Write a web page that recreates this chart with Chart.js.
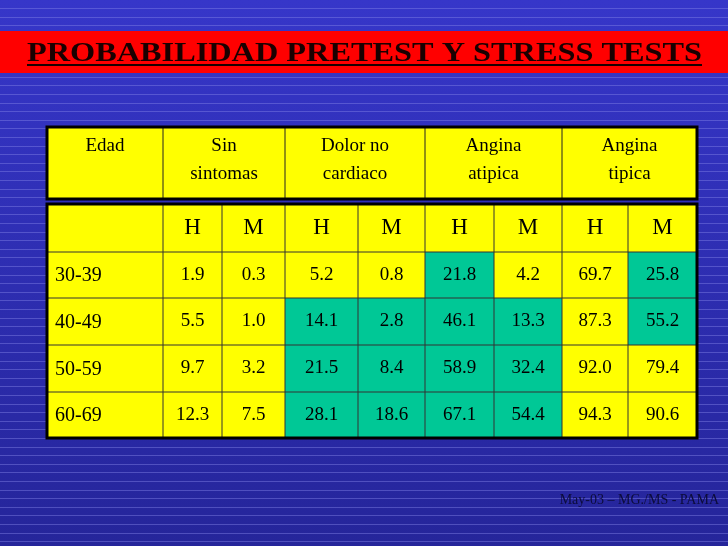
<!DOCTYPE html>
<html><head><meta charset="utf-8">
<script src="https://cdn.jsdelivr.net/npm/chart.js@4"></script>
<style>html,body{margin:0;padding:0;background:#3030b8;}#w{width:728px;height:546px;}</style>
</head><body><div id="w"><canvas id="c"></canvas></div>
<script>
const title = "PROBABILIDAD PRETEST Y STRESS TESTS";
const footer = "May-03 – MG./MS - PAMA";
const groupHeaders = [["Edad"],["Sin","sintomas"],["Dolor no","cardiaco"],["Angina","atipica"],["Angina","tipica"]];
const subHeaders = ["H","M","H","M","H","M","H","M"];
const ageGroups = ["30-39","40-49","50-59","60-69"];
const values = [
  [1.9,0.3,5.2,0.8,21.8,4.2,69.7,25.8],
  [5.5,1.0,14.1,2.8,46.1,13.3,87.3,55.2],
  [9.7,3.2,21.5,8.4,58.9,32.4,92.0,79.4],
  [12.3,7.5,28.1,18.6,67.1,54.4,94.3,90.6]
];
const highlighted = [
  [0,0,0,0,1,0,0,1],
  [0,0,1,1,1,1,0,1],
  [0,0,1,1,1,1,0,0],
  [0,0,1,1,1,1,0,0]
];

const colEdges = [47,163,222,285,358,425,494,562,628,697];
const groupEdges = [47,163,285,425,562,697];
const rowEdges = [204,252,298,345,392,438];
const YEL = "#ffff00", GRN = "#00c896";

const tablePlugin = {
  id:'table',
  beforeDraw(chart){
    const ctx = chart.ctx, xs = chart.scales.x, ys = chart.scales.y;
    const X = v=>xs.getPixelForValue(v), Y = v=>ys.getPixelForValue(v);
    ctx.save();
    const g = ctx.createLinearGradient(0,Y(0),0,Y(546));
    g.addColorStop(0,"#3636c9"); g.addColorStop(1,"#25259a");
    ctx.fillStyle = g; ctx.fillRect(X(0),Y(0),X(728)-X(0),Y(546)-Y(0));
    ctx.strokeStyle = "rgba(130,130,230,0.45)"; ctx.lineWidth = 1;
    for(let y=8; y<546; y+=8.6){ ctx.beginPath(); ctx.moveTo(X(0),Math.round(Y(y))+0.5); ctx.lineTo(X(728),Math.round(Y(y))+0.5); ctx.stroke(); }
    ctx.fillStyle = "#ff0000"; ctx.fillRect(X(0),Y(31),X(728)-X(0),Y(73)-Y(31));
    ctx.fillStyle = "#1a0000"; ctx.font = "bold 27px 'Liberation Serif'";
    ctx.textBaseline = "alphabetic"; ctx.textAlign = "left";
    const tw = ctx.measureText(title).width, target = X(702)-X(27);
    ctx.save(); ctx.translate(X(27), Y(61)); ctx.scale(target/tw, 1); ctx.fillText(title, 0, 0); ctx.restore();
    ctx.fillRect(X(27), Y(64), target, 2);
    ctx.fillStyle = YEL; ctx.fillRect(X(47),Y(127),X(697)-X(47),Y(199)-Y(127));
    ctx.strokeStyle = "#222"; ctx.lineWidth = 1;
    for(let i=1;i<groupEdges.length-1;i++){ ctx.beginPath(); ctx.moveTo(X(groupEdges[i]),Y(127)); ctx.lineTo(X(groupEdges[i]),Y(199)); ctx.stroke(); }
    ctx.lineWidth = 3; ctx.strokeStyle = "#000"; ctx.strokeRect(X(47),Y(127),X(697)-X(47),Y(199)-Y(127));
    ctx.fillStyle = "#000"; ctx.font = "19px 'Liberation Serif'"; ctx.textAlign = "center"; ctx.textBaseline = "middle";
    groupHeaders.forEach((lines,i)=>{
      const cx = (X(groupEdges[i])+X(groupEdges[i+1]))/2;
      lines.forEach((t,j)=>ctx.fillText(t, cx, Y(146+j*28)));
    });
    const nr = rowEdges.length-1, nc = colEdges.length-1;
    for(let r=0;r<nr;r++) for(let c=0;c<nc;c++){
      let fill = YEL;
      if(r>0 && c>0 && highlighted[r-1][c-1]) fill = GRN;
      ctx.fillStyle = fill;
      ctx.fillRect(X(colEdges[c]),Y(rowEdges[r]),X(colEdges[c+1])-X(colEdges[c]),Y(rowEdges[r+1])-Y(rowEdges[r]));
    }
    ctx.strokeStyle = "#333"; ctx.lineWidth = 1;
    for(let c=1;c<nc;c++){ ctx.beginPath(); ctx.moveTo(X(colEdges[c]),Y(rowEdges[0])); ctx.lineTo(X(colEdges[c]),Y(rowEdges[nr])); ctx.stroke(); }
    for(let r=1;r<nr;r++){ ctx.beginPath(); ctx.moveTo(X(colEdges[0]),Y(rowEdges[r])); ctx.lineTo(X(colEdges[nc]),Y(rowEdges[r])); ctx.stroke(); }
    ctx.lineWidth = 3; ctx.strokeStyle = "#000";
    ctx.strokeRect(X(47),Y(rowEdges[0]),X(697)-X(47),Y(rowEdges[nr])-Y(rowEdges[0]));
    ctx.fillStyle = "#000";
    const mid = r=>(Y(rowEdges[r])+Y(rowEdges[r+1]))/2;
    ctx.font = "23px 'Liberation Serif'"; ctx.textAlign = "center";
    subHeaders.forEach((t,c)=>ctx.fillText(t,(X(colEdges[c+1])+X(colEdges[c+2]))/2, mid(0)));
    ageGroups.forEach((a,r)=>{
      ctx.font = "20px 'Liberation Serif'"; ctx.textAlign = "left";
      ctx.fillText(a, X(55), mid(r+1)+1);
      ctx.font = "19px 'Liberation Serif'"; ctx.textAlign = "center";
      values[r].forEach((v,c)=>ctx.fillText(v.toFixed(1),(X(colEdges[c+1])+X(colEdges[c+2]))/2, mid(r+1)));
    });
    ctx.fillStyle = "#0c0c3a"; ctx.font = "14px 'Liberation Serif'"; ctx.textAlign = "right";
    ctx.fillText(footer, X(719), Y(500));
    ctx.restore();
  }
};

new Chart(document.getElementById('c'), {
  type:'scatter',
  data:{datasets:[{data:[]}]},
  options:{
    responsive:true, maintainAspectRatio:false, animation:false,
    layout:{padding:0},
    plugins:{legend:{display:false},tooltip:{enabled:false}},
    scales:{
      x:{type:'linear',min:0,max:728,display:false},
      y:{type:'linear',min:0,max:546,reverse:true,display:false}
    }
  },
  plugins:[tablePlugin]
});
</script></body></html>
